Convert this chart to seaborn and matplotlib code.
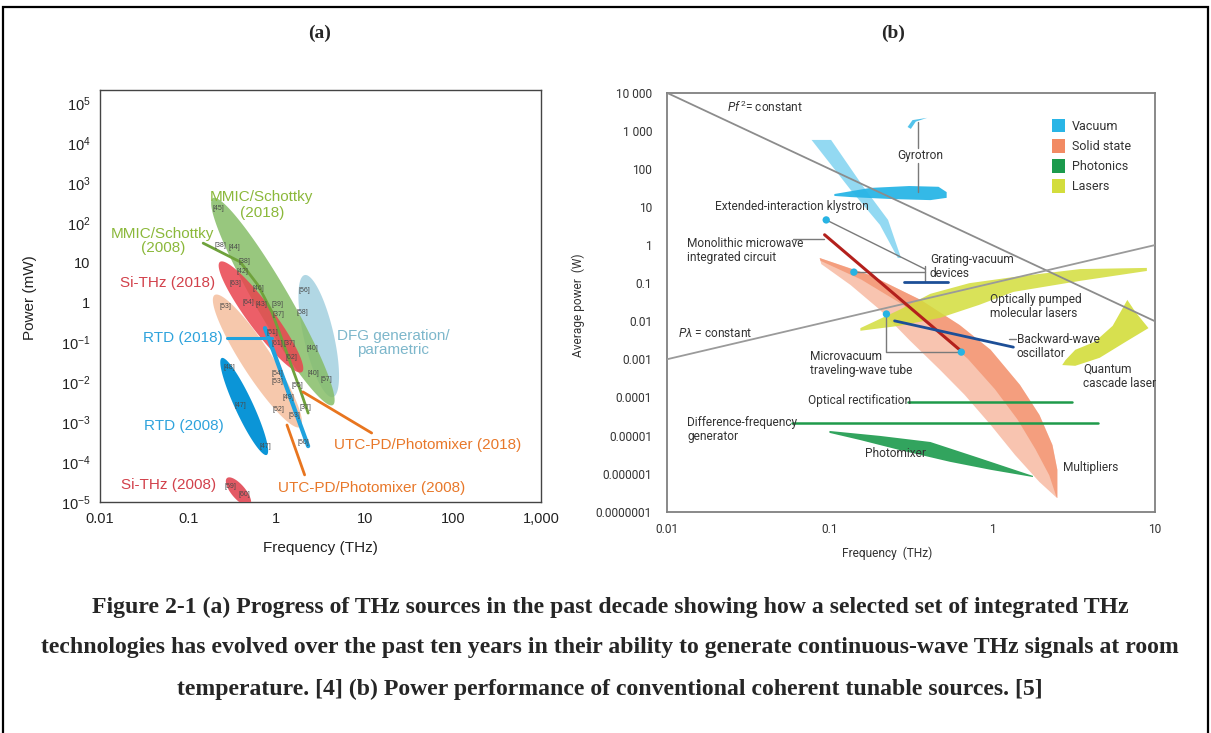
import numpy as np
import matplotlib
matplotlib.use("Agg")
import matplotlib.pyplot as plt
import seaborn as sns
from matplotlib.patches import Patch, Rectangle
from matplotlib.ticker import NullLocator, FixedLocator, FixedFormatter, LogLocator

# ===================== DATA =====================
# ---- Panel (a): values as log10(frequency / THz) and log10(power / mW)
a_regions    = ["DFG generation/parametric", "MMIC/Schottky (2018)",
                "UTC-PD/Photomixer (2018)", "Si-THz (2018)", "RTD (2008)", "Si-THz (2008)"]
a_logf_start = [0.32, -0.72, -0.70, -0.64, -0.62, -0.56]
a_logp_start = [0.69,  2.62,  0.19,  1.02, -1.39, -4.40]
a_logf_end   = [0.64,  0.64,  0.27,  0.29, -0.11, -0.30]
a_logp_end   = [-2.37, -2.57, -3.12, -1.74, -3.82, -5.08]

a_mmic2008_logf = [-0.83, -0.41, -0.21, -0.05, 0.27, 0.36]
a_mmic2008_logp = [1.49, 1.02, 0.44, -0.24, -2.19, -2.77]
a_rtd2018_logf  = [-0.13, 0.36]
a_rtd2018_logp  = [-0.64, -3.60]

a_ref_text = ["[45]", "[38]", "[44]", "[38]", "[42]", "[63]", "[46]", "[64]", "[43]", "[39]",
              "[37]", "[53]", "[56]", "[58]", "[51]", "[61]", "[37]", "[40]", "[62]", "[48]",
              "[54]", "[53]", "[55]", "[40]", "[57]", "[49]", "[47]", "[52]", "[53]", "[37]",
              "[50]", "[47]", "[59]", "[60]"]
a_ref_logf = [-0.66, -0.64, -0.48, -0.36, -0.39, -0.47, -0.21, -0.32, -0.17, 0.01,
              0.02, -0.58, 0.32, 0.30, -0.05, 0.01, 0.15, 0.41, 0.17, -0.53,
              0.01, 0.01, 0.24, 0.42, 0.57, 0.14, -0.41, 0.02, 0.21, 0.33,
              0.31, -0.13, -0.52, -0.36]
a_ref_logp = [2.37, 1.44, 1.37, 1.02, 0.79, 0.49, 0.36, -0.01, -0.06, -0.06,
              -0.29, -0.11, 0.31, -0.26, -0.74, -1.02, -1.02, -1.14, -1.37, -1.64,
              -1.77, -1.99, -2.09, -1.77, -1.92, -2.37, -2.59, -2.67, -2.82, -2.62,
              -3.50, -3.62, -4.62, -4.80]

a_xticks      = [0.01, 0.1, 1, 10, 100, 1000]
a_xticklabels = ["0.01", "0.1", "1", "10", "100", "1,000"]
a_yexp        = [-5, -4, -3, -2, -1, 0, 1, 2, 3, 4, 5]

# ---- Panel (b): log10(frequency / THz) and log10(average power / W)
b_const_f     = [0.01, 10.0]
b_pf2_p       = [1e4, 1e-2]      # P f^2 = constant
b_plambda_p   = [1e-3, 1.0]      # P lambda = constant

b_mmic_logf   = [-1.03, -0.20];  b_mmic_logp = [0.27, -2.75]
b_bwo_logf    = [-0.60, 0.13];   b_bwo_logp  = [-1.99, -2.68]
b_grat_logf   = [-0.54, -0.27];  b_grat_logp = [-0.97, -0.97]
b_optrec_logf = [-0.52, 0.49];   b_optrec_logp = [-4.12, -4.12]
b_dfg_logf    = [-1.23, 0.65];   b_dfg_logp  = [-4.68, -4.68]

b_dot_logf = [-1.02, -0.85, -0.65, -0.19]
b_dot_logp = [0.66, -0.71, -1.81, -2.81]

# shaded regions (outline vertices)
b_gyro_h_logf = [-0.97, -0.75, -0.51, -0.33, -0.28, -0.28, -0.38, -0.63, -0.87, -0.97]
b_gyro_h_logp = [1.34, 1.50, 1.55, 1.53, 1.39, 1.24, 1.18, 1.21, 1.26, 1.29]
b_gyro_d_logf = [-1.11, -0.87, -0.69, -0.58, -0.56, -0.64, -0.80, -0.99]
b_gyro_d_logp = [2.76, 1.45, 0.53, -0.34, -0.34, 0.66, 1.58, 2.76]
b_gyro_t_logf = [-0.52, -0.49, -0.40, -0.47, -0.50]
b_gyro_t_logp = [3.10, 3.28, 3.34, 3.24, 3.05]
b_ss_up_logf  = [-1.06, -0.75, -0.44, -0.20, -0.01, 0.17, 0.29, 0.37, 0.40, 0.40]
b_ss_up_logp  = [-0.34, -0.79, -1.44, -2.10, -2.75, -3.67, -4.46, -5.25, -5.90, -6.64]
b_ss_lo_logf  = [-1.05, -0.87, -0.69, -0.51, -0.32, -0.17, -0.01, 0.14, 0.29, 0.39]
b_ss_lo_logp  = [-0.50, -1.05, -1.70, -2.49, -3.28, -3.93, -4.72, -5.51, -6.22, -6.61]
b_opml_logf = [-0.81, -0.57, -0.38, -0.14, 0.13, 0.54, 0.95, 0.95, 0.54, 0.13, -0.08, -0.32, -0.57, -0.81]
b_opml_logp = [-2.18, -1.70, -1.28, -1.00, -0.84, -0.63, -0.60, -0.68, -0.94, -1.23, -1.57, -1.91, -2.12, -2.25]
b_qcl_logf = [0.45, 0.51, 0.63, 0.74, 0.83, 0.88, 0.96, 0.82, 0.66, 0.51, 0.43]
b_qcl_logp = [-3.02, -2.75, -2.54, -2.12, -1.44, -1.76, -2.18, -2.54, -2.96, -3.17, -3.15]
b_pmix_logf = [-1.00, -0.69, -0.38, -0.08, 0.25, 0.25, -0.01, -0.26, -0.57, -0.81, -1.00]
b_pmix_logp = [-4.88, -5.01, -5.17, -5.59, -6.06, -6.09, -5.90, -5.69, -5.38, -5.12, -4.93]

b_legend_labels = ["Vacuum", "Solid state", "Photonics", "Lasers"]
b_yticks = [1e4, 1e3, 1e2, 1e1, 1, 1e-1, 1e-2, 1e-3, 1e-4, 1e-5, 1e-6, 1e-7]
b_yticklabels = ["10 000", "1 000", "100", "10", "1", "0.1", "0.01", "0.001", "0.0001",
                 "0.00001", "0.000001", "0.0000001"]
b_xticks = [0.01, 0.1, 1, 10]
b_xticklabels = ["0.01", "0.1", "1", "10"]

caption_lines = [
    "Figure 2-1 (a) Progress of THz sources in the past decade showing how a selected set of integrated THz",
    "technologies has evolved over the past ten years in their ability to generate continuous-wave THz signals at room",
    "temperature. [4] (b) Power performance of conventional coherent tunable sources. [5]",
]

# ===================== STYLE =====================
sns.set_style("white")
plt.rcParams["font.family"] = ["Liberation Sans", "DejaVu Sans"]
plt.rcParams["mathtext.fontset"] = "custom"
plt.rcParams["mathtext.rm"] = "Roboto"
plt.rcParams["mathtext.it"] = "Roboto:italic"
plt.rcParams["mathtext.bf"] = "Roboto:bold"
NARROW = ["Roboto", "Liberation Sans", "DejaVu Sans"]
SERIF = ["Liberation Serif", "DejaVu Serif"]
BSIZE = 8.6

W, H = 1211, 733
fig = plt.figure(figsize=(W / 100, H / 100), dpi=100)
fig.patch.set_facecolor("white")

# outer frame
fig.add_artist(Rectangle((3 / W, -0.05), 1205 / W, 1 - 7 / H + 0.05, transform=fig.transFigure,
                         fill=False, edgecolor="black", linewidth=1.6))

axA = fig.add_axes([100 / W, 1 - 502 / H, 441 / W, 412 / H])
axB = fig.add_axes([666.7 / W, 1 - 511.7 / H, 488.3 / W, 419 / H])


def L(v):
    return 10 ** np.asarray(v, dtype=float)


def seg(ax, lf, lp, **kw):
    sns.lineplot(x=L(lf), y=L(lp), sort=False, estimator=None, ax=ax, legend=False, **kw)


def ellipse_fill(ax, lf1, lp1, lf2, lp2, hw, **kw):
    p1 = ax.transData.transform((10 ** lf1, 10 ** lp1))
    p2 = ax.transData.transform((10 ** lf2, 10 ** lp2))
    c = (p1 + p2) / 2
    d = p2 - p1
    n_len = np.hypot(*d)
    u = d / n_len
    nrm = np.array([-u[1], u[0]])
    t = np.linspace(0, 2 * np.pi, 160)
    pts = c + np.outer(n_len / 2 * np.cos(t), u) + np.outer(hw * np.sin(t), nrm)
    dat = ax.transData.inverted().transform(pts)
    ax.fill(dat[:, 0], dat[:, 1], linewidth=0, **kw)


# ===================== PANEL (a) =====================
axA.set_xscale("log")
axA.set_yscale("log")
axA.set_xlim(0.01, 1000)
axA.set_ylim(1e-5, 10 ** 5.33)

a_style = {
    "DFG generation/parametric": dict(color="#a9d3e2", alpha=0.9, hw=15, z=1),
    "MMIC/Schottky (2018)":      dict(color="#86bd68", alpha=0.85, hw=17, z=2),
    "UTC-PD/Photomixer (2018)":  dict(color="#f5bf9e", alpha=0.85, hw=15, z=3),
    "Si-THz (2018)":             dict(color="#e9434e", alpha=0.85, hw=13, z=4),
    "RTD (2008)":                dict(color="#0b95d7", alpha=1.0, hw=9, z=4),
    "Si-THz (2008)":             dict(color="#e2505c", alpha=0.95, hw=7, z=4),
}
for name, f1, p1, f2, p2 in zip(a_regions, a_logf_start, a_logp_start, a_logf_end, a_logp_end):
    st = a_style[name]
    ellipse_fill(axA, f1, p1, f2, p2, st["hw"], color=st["color"], alpha=st["alpha"], zorder=st["z"])

seg(axA, a_mmic2008_logf, a_mmic2008_logp, color="#6fa23c", linewidth=2.0, zorder=6)
seg(axA, a_rtd2018_logf, a_rtd2018_logp, color="#1fa2de", linewidth=3.0, zorder=6)
seg(axA, [-0.56, -0.05], [-0.89, -0.89], color="#1fa2de", linewidth=2.2, zorder=6)
seg(axA, [0.30, 1.08], [-2.24, -3.27], color="#e8751f", linewidth=2.0, zorder=6)
seg(axA, [0.12, 0.32], [-3.07, -4.32], color="#e8751f", linewidth=2.0, zorder=6)

for t, lf, lp in zip(a_ref_text, a_ref_logf, a_ref_logp):
    axA.text(10 ** lf, 10 ** lp, t, fontsize=5, color="#4a4a4a", ha="center", va="center", zorder=7)

green_t, red_t, blue_t, lblue_t, orange_t = "#8bb83a", "#d2414b", "#2ea3dc", "#7db7cb", "#e8782a"
a_labels = [
    ("MMIC/Schottky", -0.165, 2.64, green_t),
    ("(2018)", -0.165, 2.24, green_t),
    ("MMIC/Schottky\n(2008)", -1.287, 1.54, green_t),
    ("Si-THz (2018)", -1.23, 0.49, red_t),
    ("RTD (2018)", -1.06, -0.89, blue_t),
    ("RTD (2008)", -1.05, -3.10, blue_t),
    ("Si-THz (2008)", -1.22, -4.57, red_t),
    ("DFG generation/\nparametric", 1.32, -1.02, lblue_t),
    ("UTC-PD/Photomixer (2018)", 1.715, -3.57, orange_t),
    ("UTC-PD/Photomixer (2008)", 1.08, -4.65, orange_t),
]
for txt, lf, lp, col in a_labels:
    axA.text(10 ** lf, 10 ** lp, txt, fontsize=11, color=col, ha="center", va="center",
             linespacing=1.0, zorder=8)

axA.xaxis.set_major_locator(FixedLocator(a_xticks))
axA.xaxis.set_major_formatter(FixedFormatter(a_xticklabels))
axA.xaxis.set_minor_locator(NullLocator())
axA.yaxis.set_major_locator(FixedLocator([10.0 ** e for e in a_yexp]))
ylabs = []
for e in a_yexp:
    if e == 0:
        ylabs.append("1")
    elif e == 1:
        ylabs.append("10")
    else:
        ylabs.append(r"$\mathregular{10^{%d}}$" % e)
axA.yaxis.set_major_formatter(FixedFormatter(ylabs))
axA.yaxis.set_minor_locator(NullLocator())
axA.tick_params(direction="out", length=4, width=1, colors="#222", labelsize=10.5, pad=3)
for s in axA.spines.values():
    s.set_color("#444")
    s.set_linewidth(1.0)
axA.set_xlabel("Frequency (THz)", fontsize=11, color="#222")
axA.set_ylabel("Power (mW)", fontsize=11, color="#222")
axA.xaxis.set_label_coords(0.499, -0.095)
axA.yaxis.set_label_coords(-0.143, 0.495)
axA.set_xlim(0.01, 1000)
axA.set_ylim(1e-5, 10 ** 5.33)

# ===================== PANEL (b) =====================
axB.set_xscale("log")
axB.set_yscale("log")
axB.set_xlim(0.01, 10)
axB.set_ylim(1e-7, 1e4)

vac_c, ss_c, ph_c, las_c = "#29b5e6", "#f28a63", "#1b9a4c", "#d3dd3c"


def poly(ax, lf, lp, color, alpha, z):
    ax.fill(L(lf), L(lp), color=color, alpha=alpha, linewidth=0, zorder=z)


# solid state (multipliers) with a soft two-layer look
poly(axB, b_ss_up_logf + b_ss_lo_logf[::-1], b_ss_up_logp + b_ss_lo_logp[::-1], ss_c, 0.5, 1)
core_f = list((np.array(b_ss_up_logf) * 0.55 + np.array(b_ss_lo_logf) * 0.45))
core_p = list((np.array(b_ss_up_logp) * 0.55 + np.array(b_ss_lo_logp) * 0.45))
poly(axB, b_ss_up_logf + core_f[::-1], b_ss_up_logp + core_p[::-1], ss_c, 0.65, 1)

poly(axB, b_gyro_d_logf, b_gyro_d_logp, vac_c, 0.5, 2)
poly(axB, b_gyro_h_logf, b_gyro_h_logp, vac_c, 0.95, 2)
poly(axB, b_gyro_t_logf, b_gyro_t_logp, vac_c, 0.8, 2)
poly(axB, b_opml_logf, b_opml_logp, las_c, 0.85, 2)
poly(axB, b_qcl_logf, b_qcl_logp, las_c, 0.9, 2)
poly(axB, b_pmix_logf, b_pmix_logp, ph_c, 0.9, 2)

# constant-law lines
sns.lineplot(x=b_const_f, y=b_pf2_p, ax=axB, color="#8c8c8c", linewidth=1.3, legend=False, zorder=3)
sns.lineplot(x=b_const_f, y=b_plambda_p, ax=axB, color="#9a9a9a", linewidth=1.3, legend=False, zorder=3)

# leader lines (grey)
lead = dict(color="#7a7a7a", linewidth=1.0, zorder=3)
seg(axB, [-0.456, -0.456], [3.23, 2.55], **lead)
seg(axB, [-0.456, -0.456], [2.16, 1.39], **lead)
seg(axB, [-1.02, -0.413], [0.66, -0.63], **lead)
seg(axB, [-0.85, -0.413], [-0.71, -0.71], **lead)
seg(axB, [-0.413, -0.413], [-0.55, -0.97], **lead)
seg(axB, [-1.225, -1.034], [0.16, 0.16], **lead)
seg(axB, [-0.65, -0.65, -0.19], [-1.81, -2.81, -2.81], **lead)
seg(axB, [0.10, 0.145], [-2.46, -2.46], **lead)

# device lines
seg(axB, b_mmic_logf, b_mmic_logp, color="#b3201c", linewidth=2.2, zorder=4)
seg(axB, b_bwo_logf, b_bwo_logp, color="#1d4f97", linewidth=2.0, zorder=4)
seg(axB, b_grat_logf, b_grat_logp, color="#1d4f97", linewidth=2.0, zorder=4)
seg(axB, b_optrec_logf, b_optrec_logp, color="#1f9a4a", linewidth=1.8, zorder=4)
seg(axB, b_dfg_logf, b_dfg_logp, color="#1f9a4a", linewidth=1.8, zorder=4)

sns.scatterplot(x=L(b_dot_logf), y=L(b_dot_logp), ax=axB, color="#27b3e3", s=28,
                edgecolor="none", legend=False, zorder=6)

tkw = dict(fontsize=BSIZE, color="#333", family=NARROW, zorder=8)
b_labels = [
    (r"$\mathit{Pf}^{\,2}$= constant", -1.63, 3.62, "left"),
    ("Gyrotron", -0.444, 2.36, "center"),
    ("Extended-interaction klystron", -1.703, 1.0, "left"),
    ("Monolithic microwave\nintegrated circuit", -1.875, -0.155, "left"),
    ("Grating-vacuum\ndevices", -0.383, -0.55, "left"),
    ("Optically pumped\nmolecular lasers", -0.014, -1.61, "left"),
    (r"$\mathit{P\lambda}$ = constant", -1.931, -2.31, "left"),
    ("Microvacuum\ntraveling-wave tube", -1.12, -3.12, "left"),
    ("Backward-wave\noscillator", 0.152, -2.65, "left"),
    ("Quantum\ncascade laser", 0.557, -3.45, "left"),
    ("Optical rectification", -1.132, -4.09, "left"),
    ("Difference-frequency\ngenerator", -1.875, -4.85, "left"),
    ("Photomixer", -0.782, -5.46, "left"),
    ("Multipliers", 0.434, -5.85, "left"),
]
for txt, lf, lp, ha in b_labels:
    axB.text(10 ** lf, 10 ** lp, txt, ha=ha, va="center", linespacing=1.1, **tkw)

handles = [Patch(facecolor=c, edgecolor="none") for c in [vac_c, ss_c, ph_c, las_c]]
leg = axB.legend(handles, b_legend_labels, loc="upper left", bbox_to_anchor=(0.778, 0.95),
                 frameon=False, handlelength=1.05, handleheight=1.3, handletextpad=0.6,
                 labelspacing=0.5, prop=dict(family=NARROW, size=BSIZE + 0.4), borderaxespad=0)
for t in leg.get_texts():
    t.set_color("#333")

axB.xaxis.set_major_locator(FixedLocator(b_xticks))
axB.xaxis.set_major_formatter(FixedFormatter(b_xticklabels))
axB.xaxis.set_minor_locator(LogLocator(base=10, subs=np.arange(2, 10)))
axB.yaxis.set_major_locator(FixedLocator(b_yticks))
axB.yaxis.set_major_formatter(FixedFormatter(b_yticklabels))
axB.yaxis.set_minor_locator(NullLocator())
axB.tick_params(axis="x", which="major", direction="in", length=4, width=1, colors="#555", pad=8)
axB.tick_params(axis="x", which="minor", direction="in", length=3.5, width=1, colors="#555")
axB.tick_params(axis="y", which="major", direction="out", length=8.5, width=1, colors="#555", pad=2)
for lab in axB.get_xticklabels() + axB.get_yticklabels():
    lab.set_fontfamily(NARROW)
    lab.set_fontsize(BSIZE)
    lab.set_color("#333")
for s in axB.spines.values():
    s.set_color("#808080")
    s.set_linewidth(1.3)
axB.set_xlabel("Frequency  (THz)", fontsize=BSIZE, color="#333", family=NARROW)
axB.set_ylabel("Average power  (W)", fontsize=BSIZE, color="#333", family=NARROW)
axB.xaxis.set_label_coords(0.451, -0.084)
axB.yaxis.set_label_coords(-0.167, 0.493)
axB.set_xlim(0.01, 10)
axB.set_ylim(1e-7, 1e4)

# ===================== titles & caption =====================
fig.text(320 / W, 1 - 33 / H, "(a)", fontsize=14, fontweight="bold", family=SERIF, ha="center", va="center")
fig.text(893 / W, 1 - 33 / H, "(b)", fontsize=14, fontweight="bold", family=SERIF, ha="center", va="center")
for line, yy in zip(caption_lines, [607, 648, 689]):
    fig.text(610 / W, 1 - yy / H, line, fontsize=17.1, fontweight="bold", family=SERIF,
             ha="center", va="center")

fig.savefig("out.png", dpi=100, facecolor="white")
